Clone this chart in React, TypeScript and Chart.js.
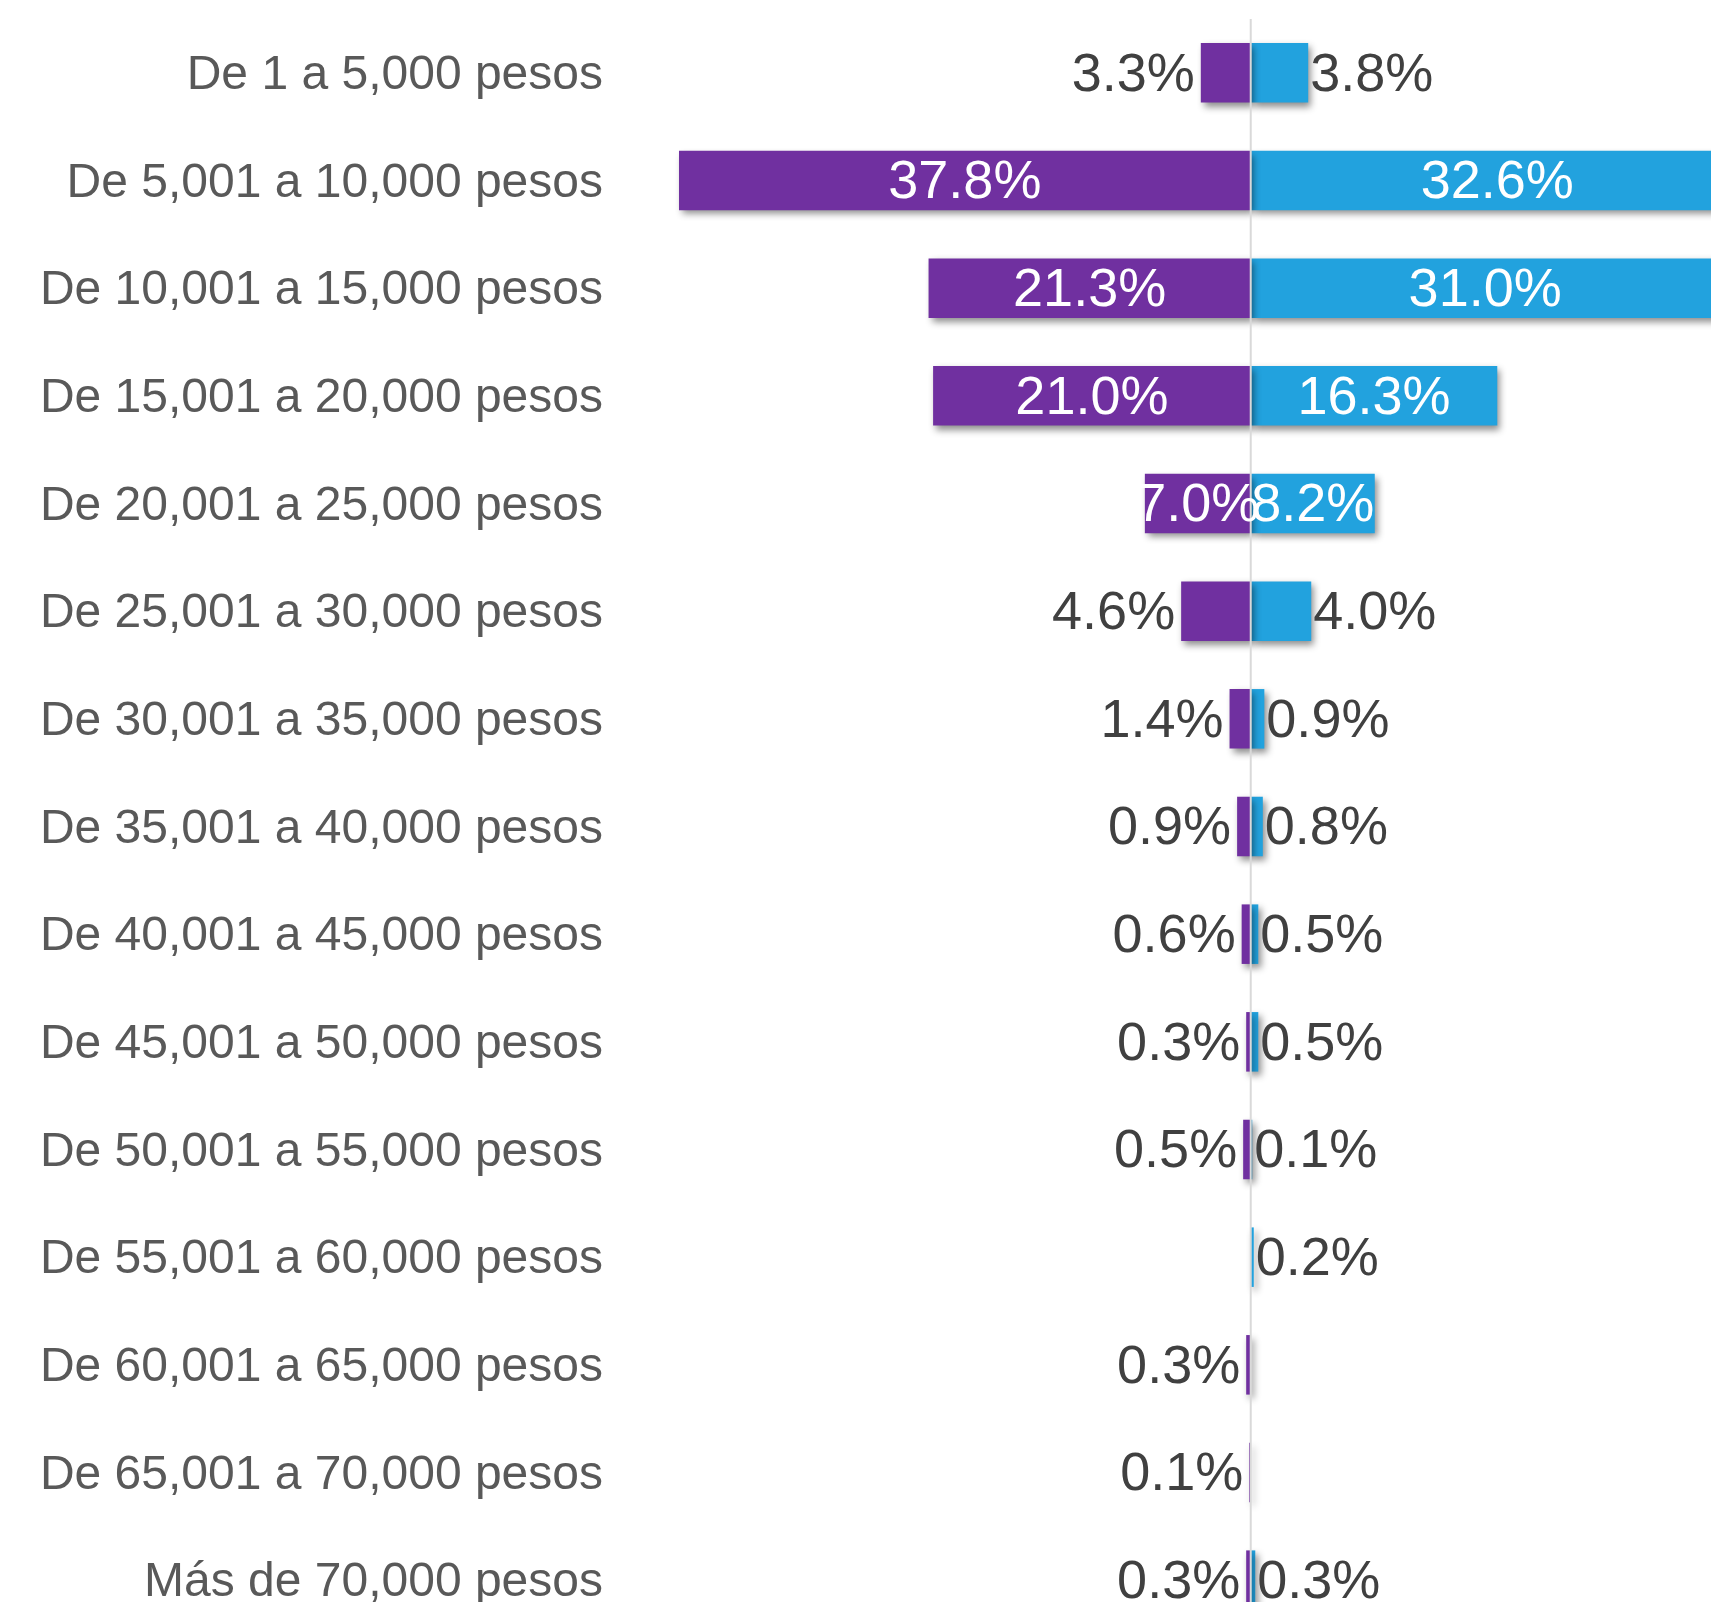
import { useEffect, useRef } from 'react';
import { Chart, registerables } from 'chart.js';

Chart.register(...registerables);

const categories = [
  'De 1 a 5,000 pesos',
  'De 5,001 a 10,000 pesos',
  'De 10,001 a 15,000 pesos',
  'De 15,001 a 20,000 pesos',
  'De 20,001 a 25,000 pesos',
  'De 25,001 a 30,000 pesos',
  'De 30,001 a 35,000 pesos',
  'De 35,001 a 40,000 pesos',
  'De 40,001 a 45,000 pesos',
  'De 45,001 a 50,000 pesos',
  'De 50,001 a 55,000 pesos',
  'De 55,001 a 60,000 pesos',
  'De 60,001 a 65,000 pesos',
  'De 65,001 a 70,000 pesos',
  'Más de 70,000 pesos',
];

// left side (purple)
const mujeres: (number | null)[] = [3.3, 37.8, 21.3, 21.0, 7.0, 4.6, 1.4, 0.9, 0.6, 0.3, 0.5, null, 0.3, 0.1, 0.3];
// right side (blue)
const hombres: (number | null)[] = [3.8, 32.6, 31.0, 16.3, 8.2, 4.0, 0.9, 0.8, 0.5, 0.5, 0.1, 0.2, null, null, 0.3];

const seriesNames = ['Mujeres', 'Hombres'];

const PURPLE = '#7030A0';
const BLUE = '#22A2DE';
const FONT = "'Liberation Sans', Arial, sans-serif";

const X_MIN = -41.7;
const X_MAX = 50;
const PX_PER_UNIT = 15.12;
const AXIS_W = 620;
const LABEL_PAD = 17;
const TEXT_DY = 3;
const CANVAS_W = Math.round(AXIS_W + (X_MAX - X_MIN) * PX_PER_UNIT);
const CANVAS_H = 1640;

const effectsPlugin = {
  id: 'effects',
  beforeDatasetsDraw(chart: any) {
    const ctx = chart.ctx;
    ctx.save();
    ctx.shadowColor = 'rgba(0,0,0,0.45)';
    ctx.shadowBlur = 7;
    ctx.shadowOffsetX = 3;
    ctx.shadowOffsetY = 4;
  },
  afterDatasetsDraw(chart: any) {
    const ctx = chart.ctx;
    ctx.restore();
    const area = chart.chartArea;
    const yScale = chart.scales.y;
    const x0 = chart.scales.x.getPixelForValue(0);

    // category labels (positions from the y scale)
    ctx.save();
    ctx.font = `48px ${FONT}`;
    ctx.fillStyle = '#595959';
    ctx.textAlign = 'right';
    ctx.textBaseline = 'middle';
    chart.data.labels.forEach((lab: string, i: number) => {
      ctx.fillText(lab, yScale.right - LABEL_PAD, yScale.getPixelForTick(i) + TEXT_DY);
    });
    ctx.restore();

    // zero line
    ctx.save();
    ctx.strokeStyle = '#D9D9D9';
    ctx.lineWidth = 2;
    ctx.beginPath();
    ctx.moveTo(x0, area.top);
    ctx.lineTo(x0, area.bottom);
    ctx.stroke();
    ctx.restore();

    // data labels
    ctx.save();
    ctx.font = `54px ${FONT}`;
    ctx.textBaseline = 'middle';
    chart.data.datasets.forEach((ds: any, di: number) => {
      const meta = chart.getDatasetMeta(di);
      meta.data.forEach((el: any, i: number) => {
        const raw = ds.data[i];
        if (raw === null || raw === undefined) return;
        const v = Math.abs(raw);
        const text = v.toFixed(1) + '%';
        const left = raw < 0;
        const y = el.y + TEXT_DY;
        if (v >= 5) {
          ctx.fillStyle = '#FFFFFF';
          ctx.textAlign = 'center';
          ctx.fillText(text, (el.x + el.base) / 2, y);
        } else {
          ctx.fillStyle = '#404040';
          if (left) {
            ctx.textAlign = 'right';
            ctx.fillText(text, el.x - 6, y);
          } else {
            ctx.textAlign = 'left';
            ctx.fillText(text, el.x + 2, y);
          }
        }
      });
    });
    ctx.restore();
  },
};

export default function App() {
  const ref = useRef<HTMLCanvasElement | null>(null);
  useEffect(() => {
    if (!ref.current) return;
    const chart = new Chart(ref.current, {
      type: 'bar',
      data: {
        labels: categories,
        datasets: [
          {
            label: seriesNames[0],
            data: mujeres.map((v) => (v === null ? null : -v)),
            backgroundColor: PURPLE,
            barPercentage: 0.553,
            categoryPercentage: 1,
          },
          {
            label: seriesNames[1],
            data: hombres,
            backgroundColor: BLUE,
            barPercentage: 0.553,
            categoryPercentage: 1,
          },
        ],
      },
      options: {
        indexAxis: 'y',
        responsive: false,
        animation: false,
        devicePixelRatio: 1,
        layout: { padding: { top: 19, bottom: 6, left: 0, right: 0 } },
        plugins: {
          legend: { display: false },
          tooltip: { enabled: false },
        },
        scales: {
          x: {
            type: 'linear',
            stacked: true,
            min: X_MIN,
            max: X_MAX,
            display: false,
          },
          y: {
            type: 'category',
            stacked: true,
            grid: { display: false, drawTicks: false },
            border: { display: false },
            ticks: {
              display: false,
              autoSkip: false,
            },
            afterFit: (scale: any) => {
              scale.width = AXIS_W;
              scale.paddingTop = 0;
              scale.paddingBottom = 0;
            },
          },
        },
      },
      plugins: [effectsPlugin],
    });
    return () => chart.destroy();
  }, []);

  return (
    <div
      style={{
        position: 'fixed',
        left: 0,
        top: 0,
        width: 1711,
        height: 1602,
        overflow: 'hidden',
        background: '#ffffff',
      }}
    >
      <canvas
        ref={ref}
        width={CANVAS_W}
        height={CANVAS_H}
        style={{ width: CANVAS_W, height: CANVAS_H, display: 'block' }}
      />
    </div>
  );
}
